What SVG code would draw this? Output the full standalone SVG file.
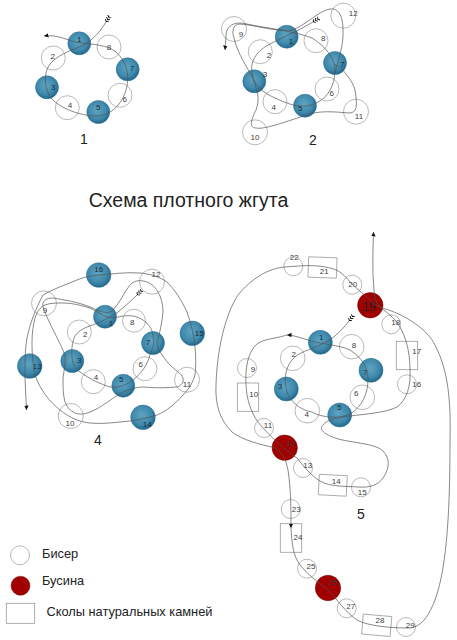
<svg xmlns="http://www.w3.org/2000/svg" width="457" height="640" viewBox="0 0 457 640">
<style>
text{font-family:"Liberation Sans",Arial,sans-serif}
.l{font-size:8px;fill:#3d3d3d;text-anchor:middle}
.b{fill:#fff;stroke:#999;stroke-width:.7}
.g{fill:url(#blue);stroke:#2a7396;stroke-width:.5}
.r{fill:#a00000;stroke:#7a0000;stroke-width:.5}
.s{fill:#fff;stroke:#999;stroke-width:.8}
.w{fill:none;stroke:#555;stroke-width:.7}
.n{font-size:14px;fill:#222;text-anchor:middle}
.t{font-size:12.800px;fill:#222}
.d{fill:#1b2c36}
</style>
<defs>
<radialGradient id="blue" cx=".45" cy=".42" r=".6"><stop offset="0" stop-color="#5fa3c2"/><stop offset=".65" stop-color="#3f89ac"/><stop offset="1" stop-color="#1f6488"/></radialGradient>
<marker id="ah" markerUnits="userSpaceOnUse" markerWidth="6" markerHeight="5" refX="4.500" refY="2.250" orient="auto"><path d="M0,0 L4.500,2.250 L0,4.500 Z" fill="#111"/></marker>
<marker id="ft" markerUnits="userSpaceOnUse" markerWidth="8" markerHeight="6" refX="7" refY="2.500" orient="auto"><path d="M0,.5 L1.500,2.500 L0,4.500M2.500,.5 L4,2.500 L2.500,4.500M5,.5 L6.500,2.500 L5,4.500" fill="none" stroke="#111" stroke-width="1"/></marker>
</defs>
<g id="diagram1">
<g id="d1-2"><circle class="b" cx="53.3" cy="58" r="12"/><text class="l" x="52.7" y="59">2</text></g>
<g id="d1-4"><circle class="b" cx="67.3" cy="107.7" r="12"/><text class="l" x="70" y="108">4</text></g>
<g id="d1-6"><circle class="b" cx="120" cy="95.3" r="12"/><text class="l" x="124.7" y="102">6</text></g>
<g id="d1-8"><circle class="b" cx="109" cy="47" r="12"/><text class="l" x="109" y="50">8</text></g>
<g id="d1-1"><circle class="g" cx="79.3" cy="43.3" r="11.5"/><text class="l d" x="79.3" y="42.3">1</text></g>
<g id="d1-3"><circle class="g" cx="47" cy="87.3" r="11.5"/><text class="l d" x="53.3" y="89.7">3</text></g>
<g id="d1-5"><circle class="g" cx="98.3" cy="112" r="11.5"/><text class="l d" x="98.3" y="109.7">5</text></g>
<g id="d1-7"><circle class="g" cx="127.7" cy="69.3" r="11.5"/><text class="l d" x="132" y="71">7</text></g>
</g>
<g id="diagram2">
<g id="d2-2"><circle class="b" cx="260.3" cy="51.7" r="12"/><text class="l" x="269" y="58.3">2</text></g>
<g id="d2-4"><circle class="b" cx="275" cy="101.7" r="12"/><text class="l" x="273.7" y="109.7">4</text></g>
<g id="d2-6"><circle class="b" cx="327" cy="89" r="12"/><text class="l" x="331.7" y="96">6</text></g>
<g id="d2-8"><circle class="b" cx="316" cy="40.7" r="12"/><text class="l" x="323.3" y="40.7">8</text></g>
<g id="d2-9"><circle class="b" cx="234" cy="29" r="12.5"/><text class="l" x="241" y="37">9</text></g>
<g id="d2-10"><circle class="b" cx="255" cy="132.3" r="12.5"/><text class="l" x="255" y="140.3">10</text></g>
<g id="d2-11"><circle class="b" cx="356" cy="111.7" r="12.5"/><text class="l" x="359" y="119.3">11</text></g>
<g id="d2-12"><circle class="b" cx="343.3" cy="15.7" r="12.5"/><text class="l" x="353.3" y="16.3">12</text></g>
<g id="d2-1"><circle class="g" cx="286.7" cy="36.7" r="11.5"/><text class="l d" x="291" y="43.7">1</text></g>
<g id="d2-3"><circle class="g" cx="254.3" cy="81.3" r="11.5"/><text class="l d" x="265" y="77">3</text></g>
<g id="d2-5"><circle class="g" cx="305" cy="105.7" r="11.5"/><text class="l d" x="300.3" y="111">5</text></g>
<g id="d2-7"><circle class="g" cx="335" cy="63" r="11.5"/><text class="l d" x="342.3" y="67.3">7</text></g>
</g>
<g id="diagram4">
<g id="d4-2"><circle class="b" cx="79.3" cy="332" r="12"/><text class="l" x="85.3" y="337">2</text></g>
<g id="d4-4"><circle class="b" cx="93.3" cy="381.7" r="12"/><text class="l" x="96" y="380.3">4</text></g>
<g id="d4-6"><circle class="b" cx="145" cy="368.7" r="12"/><text class="l" x="140.7" y="367.3">6</text></g>
<g id="d4-8"><circle class="b" cx="134" cy="320.7" r="11.5"/><text class="l" x="132.3" y="325">8</text></g>
<g id="d4-9"><circle class="b" cx="44" cy="303.3" r="12.5"/><text class="l" x="45" y="313">9</text></g>
<g id="d4-10"><circle class="b" cx="70.7" cy="416" r="12.5"/><text class="l" x="70" y="426">10</text></g>
<g id="d4-11"><circle class="b" cx="187" cy="379.7" r="12.5"/><text class="l" x="187" y="386.7">11</text></g>
<g id="d4-12"><circle class="b" cx="152" cy="281.7" r="12.5"/><text class="l" x="156" y="277">12</text></g>
<g id="d4-1"><circle class="g" cx="105" cy="316.7" r="11.5"/><text class="l d" x="111" y="326.3">1</text></g>
<g id="d4-3"><circle class="g" cx="72.3" cy="361" r="11.5"/><text class="l d" x="79.3" y="362.7">3</text></g>
<g id="d4-5"><circle class="g" cx="123.3" cy="385.7" r="11.5"/><text class="l d" x="121.3" y="382.3">5</text></g>
<g id="d4-7"><circle class="g" cx="153" cy="343" r="11.5"/><text class="l d" x="148" y="345.3">7</text></g>
<g id="d4-13"><circle class="g" cx="29.7" cy="366" r="12.3"/><text class="l d" x="37.3" y="368.7">13</text></g>
<g id="d4-14"><circle class="g" cx="143" cy="417.3" r="12.3"/><text class="l d" x="147.3" y="426.7">14</text></g>
<g id="d4-15"><circle class="g" cx="192.3" cy="333.3" r="12.3"/><text class="l d" x="199.3" y="335.7">15</text></g>
<g id="d4-16"><circle class="g" cx="98.7" cy="275" r="12.3"/><text class="l d" x="98.7" y="272">16</text></g>
</g>
<g id="diagram5">
<g id="d5-2"><circle class="b" cx="292.7" cy="358.3" r="12.3"/><text class="l" x="293.7" y="357.3">2</text></g>
<g id="d5-4"><circle class="b" cx="307.3" cy="410.7" r="12.3"/><text class="l" x="306.7" y="417.3">4</text></g>
<g id="d5-6"><circle class="b" cx="362.3" cy="397.3" r="12.3"/><text class="l" x="356.3" y="396.3">6</text></g>
<g id="d5-8"><circle class="b" cx="351.7" cy="346.7" r="12.3"/><text class="l" x="354" y="347.7">8</text></g>
<g id="d5-9"><circle class="b" cx="247" cy="368" r="9.5"/><text class="l" x="253" y="372.3">9</text></g>
<g id="d5-10"><rect class="s" x="237.3" y="383" width="21.4" height="28.3"/><text class="l" x="253.7" y="397.3">10</text></g>
<g id="d5-11"><circle class="b" cx="264" cy="428" r="9.5"/><text class="l" x="268" y="427.7">11</text></g>
<g id="d5-13"><circle class="b" cx="303" cy="468" r="9.5"/><text class="l" x="307.7" y="468">13</text></g>
<g id="d5-14"><rect class="s" x="318.8" y="475" width="28" height="20.5" transform="rotate(3 333 485)"/><text class="l" x="336.3" y="484.3">14</text></g>
<g id="d5-15"><circle class="b" cx="361" cy="487.3" r="9.5"/><text class="l" x="362.3" y="495">15</text></g>
<g id="d5-16"><circle class="b" cx="407" cy="384.3" r="9.5"/><text class="l" x="416.7" y="387">16</text></g>
<g id="d5-17"><rect class="s" x="396.3" y="341.3" width="21.4" height="28.4"/><text class="l" x="416.7" y="354">17</text></g>
<g id="d5-18"><circle class="b" cx="391.3" cy="324.3" r="9.5"/><text class="l" x="395.7" y="325.3">18</text></g>
<g id="d5-20"><circle class="b" cx="352.3" cy="284.7" r="9.5"/><text class="l" x="352.7" y="286.7">20</text></g>
<g id="d5-21"><rect class="s" x="308.3" y="257.3" width="28.4" height="20.4" transform="rotate(2 322.5 267.5)"/><text class="l" x="324.3" y="274">21</text></g>
<g id="d5-22"><circle class="b" cx="293.3" cy="266.3" r="9.5"/><text class="l" x="294.3" y="260.3">22</text></g>
<g id="d5-23"><circle class="b" cx="290.7" cy="509" r="9.5"/><text class="l" x="296.3" y="511.7">23</text></g>
<g id="d5-24"><rect class="s" x="280.3" y="523.7" width="21.4" height="28.6"/><text class="l" x="298" y="539.7">24</text></g>
<g id="d5-25"><circle class="b" cx="307" cy="568.7" r="9.5"/><text class="l" x="311" y="568.7">25</text></g>
<g id="d5-27"><circle class="b" cx="346.7" cy="608.3" r="9.5"/><text class="l" x="350.7" y="609.3">27</text></g>
<g id="d5-28"><rect class="s" x="362.4" y="615.3" width="28.6" height="20" transform="rotate(5 376.7 625.3)"/><text class="l" x="380" y="623">28</text></g>
<g id="d5-29"><circle class="b" cx="406" cy="627" r="9.5"/><text class="l" x="410.3" y="628.3">29</text></g>
<g id="d5-1"><circle class="g" cx="320.3" cy="342.3" r="12"/><text class="l d" x="321.3" y="339.7">1</text></g>
<g id="d5-3"><circle class="g" cx="286.3" cy="389" r="12"/><text class="l d" x="280" y="389.3">3</text></g>
<g id="d5-5"><circle class="g" cx="339.7" cy="415" r="12"/><text class="l d" x="339.3" y="410.3">5</text></g>
<g id="d5-7"><circle class="g" cx="371" cy="370.3" r="12"/><text class="l d" x="365.3" y="375.3">7</text></g>
<g id="d5-12"><circle class="r" cx="284.7" cy="447.7" r="12.7"/><text class="l" x="290.7" y="445.7">12</text></g>
<g id="d5-19"><circle class="r" cx="370.3" cy="305.3" r="12.7"/><text x="369" y="311" font-size="12" fill="#222" text-anchor="middle">19</text></g>
<g id="d5-26"><circle class="r" cx="328" cy="588" r="12.7"/><text class="l" x="333" y="585">26</text></g>
</g>
<g id="connectors">
<path class="w" marker-start="url(#ft)" marker-end="url(#ah)" d="M106,22 C100,32 94,38 87,43 C78,49 60,52 50,64 C43,73 44,90 52,99 C60,108 80,116 96,116 C112,116 124,102 127,86 C129,74 127,62 116,52 C108,45 92,44 80,43 C68,41 58,34 44,36"/>
<path class="w" marker-start="url(#ft)" marker-end="url(#ah)" d="M313,22 C300,30 285,36 270,44 C258,50 250,60 252,72 C254,86 262,92 275,98 C288,104 302,110 316,103 C328,98 335,85 335,70 C335,58 325,46 312,38 C295,31 265,28 247,24 C235,21 225,25 226,38 L225,50"/>
<path class="w" d="M335,74 C338,60 344,45 343,30 C343,15 338,8 330,9 C318,11 305,26 292,30 C275,32 255,25 240,24 C232,24 232,33 234,38 C238,55 248,68 252,77 C258,90 260,100 256,110 C252,118 248,128 256,128 C265,130 290,120 307,115 C320,110 335,112 350,113 C358,112 357,104 355,90 C352,80 347,76 343,70 C340,66 337,66 335,64"/>
<path class="w" marker-start="url(#ft)" marker-end="url(#ah)" d="M137,295 C131,301 124,307 118,312 C112,316 100,323 87,327 C78,331 74,335 73,342 C71,350 72,354 72,358 C73,365 76,369 80,372 C90,379 100,384 110,387 C120,388 128,384 133,380 C142,373 147,365 150,355 C153,348 155,342 153,335 C152,329 149,324 143,320 C137,316 130,315 123,316 C115,318 110,318 107,317 C100,314 96,311 90,308 C80,305 72,303 63,303 C56,303 50,303 45,305 C39,308 37,312 35,318 C33,326 32,333 32,342 C32,355 33,365 35,375 C40,390 50,402 60,410 C70,418 80,422 90,423 C100,424 110,423 120,422 C132,421 145,419 157,415 C167,411 176,403 183,395 C189,389 193,382 195,375 C196,366 196,357 195,348 C194,335 191,323 187,312 C182,301 175,290 167,282 C158,276 150,274 140,273 C125,272 112,274 99,275 C90,276 84,277 77,280 C65,285 53,289 43,295 C36,308 30,323 27,338 C25,349 25,360 25,372 C25,385 26,397 26.5,410"/>
<path class="w" d="M157,342 C160,333 162,322 163,312 C163,304 161,297 158,292 C154,285 149,282 143,281 C138,280 134,281 130,285 C124,292 120,303 113,310 C110,313 106,313 103,312 C98,311 95,309 90,307 C78,302 65,300 53,298 C49,298 45,299 43,303 C42,307 45,312 47,317 C52,329 60,342 65,355 C66,363 64,370 63,378 C63,387 63,395 65,402 C67,407 70,411 75,413 C80,415 85,414 90,412 C101,408 112,398 123,392 C130,389 137,387 143,387 C154,388 165,388 177,387 C181,386 184,382 183,378 C181,373 175,370 170,365 C166,361 163,356 160,352 C158,348 157,345 157,342"/>
<path class="w" marker-start="url(#ft)" marker-end="url(#ah)" d="M349,321 C340,333 330,341 320,345 C310,350 298,352 292,360 C285,368 283,382 288,395 C294,405 302,410 312,412 C322,418 340,419 350,414 C362,407 368,393 368,380 C368,367 362,358 350,350 C340,345 320,344 308,340 C300,338 294,335 287,335"/>
<path class="w" d="M287,335 C272,340 258,338 252,350 C245,362 245,380 247,395 C250,410 255,420 265,430 C272,438 285,450 297,458 C303,465 310,475 320,481 C330,487 345,486 358,487 C370,488 378,485 383,478 C390,468 390,458 383,451 C375,443 350,443 335,438 C325,434 318,430 323,425 C327,420 335,418 350,416 C365,414 385,413 397,407 C407,400 411,385 410,370 C410,350 405,332 395,320 C388,312 380,308 372,302 C365,295 358,290 350,282 C345,276 340,270 330,268 C315,264 300,266 285,267 C268,268 250,280 238,295 C225,315 217,350 216,385 C215,405 220,420 232,432 C242,440 262,445 272,447 C282,450 286,460 288,470 C291,490 291,510 291,528" marker-end="url(#ah)"/>
<path class="w" marker-end="url(#ah)" d="M291,528 C292,545 293,555 300,565 C308,575 318,582 328,590 C338,600 345,612 357,620 C368,626 390,628 408,628 C420,628 428,618 435,600 C448,565 450,500 450,440 C451,400 448,370 435,345 C428,330 405,314 382,308 C378,306 374,300 374,290 C372,270 373,250 373.5,232"/>
</g>
<text class="n" x="84" y="144">1</text>
<text class="n" x="313" y="145">2</text>
<text class="n" x="98" y="445">4</text>
<text class="n" x="361" y="519">5</text>
<text x="188.500" y="207" font-size="19.500" fill="#222" text-anchor="middle">Схема плотного жгута</text>
<g id="legend">
<g id="legend-bead"><circle class="b" cx="20" cy="555.300" r="9.500"/><text class="t" x="42" y="558">Бисер</text></g>
<g id="legend-large"><circle class="r" cx="20.500" cy="585.700" r="9.500"/><text class="t" x="42" y="585">Бусина</text></g>
<g id="legend-chip"><rect class="s" x="6.300" y="603.300" width="28.400" height="20"/><text class="t" x="46.500" y="616">Сколы натуральных камней</text></g>
</g>
</svg>
